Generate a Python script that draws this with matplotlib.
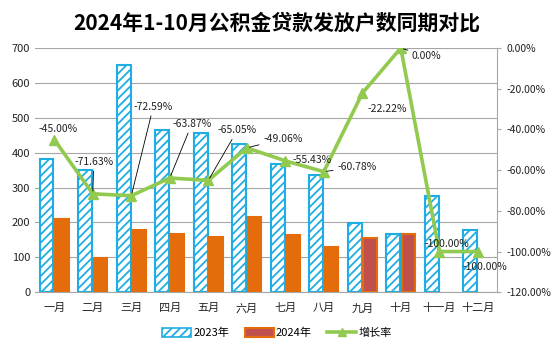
import matplotlib
matplotlib.use("Agg")
import matplotlib.pyplot as plt
import numpy as np
from matplotlib.patches import Patch
from matplotlib.lines import Line2D
from matplotlib.ticker import FuncFormatter

plt.rcParams['font.family'] = ['Noto Sans CJK SC', 'DejaVu Sans']
plt.rcParams['hatch.linewidth'] = 1.3

months   = ["一月", "二月", "三月", "四月", "五月", "六月",
            "七月", "八月", "九月", "十月", "十一月", "十二月"]
y2023    = [381, 350, 652, 466, 455, 426, 367, 335, 199, 166, 276, 178]
y2024    = [209, 99, 179, 168, 159, 217, 164, 131, 155, 166, np.nan, np.nan]
growth   = [-45.00, -71.63, -72.59, -63.87, -65.05, -49.06,
            -55.43, -60.78, -22.22, 0.00, -100.00, -100.00]
growth_labels = ["-45.00%", "-71.63%", "-72.59%", "-63.87%", "-65.05%", "-49.06%",
                 "-55.43%", "-60.78%", "-22.22%", "0.00%", "-100.00%", "-100.00%"]

# label offsets (pixels) and whether a leader line is drawn
label_offsets = [(4, 11), (1, 32), (22, 89), (22, 54), (29, 50), (36, 9),
                 (27, 1), (33, 5), (25, -16), (26, -8), (8, 8), (7, -15)]
leaders = [False, True, True, True, True, True,
           False, True, False, True, False, False]

blue = "#1FAEE3"
orange = "#E46C0A"
red = "#C0504D"
green = "#92C94F"
grey = "#A6A6A6"

fig = plt.figure(figsize=(5.54, 3.43), dpi=100)
ax = fig.add_axes([0.0632, 0.148, 0.834, 0.712])
x = np.arange(len(months))
w = 0.36

ax.bar(x - w / 2 - 0.02, y2023, w, facecolor="white", edgecolor=blue,
       hatch="////", linewidth=1.5, zorder=2)
cols24 = [orange] * 8 + [red] * 2 + [orange] * 2
ax.bar(x + w / 2 + 0.02, y2024, w, color=cols24, edgecolor=orange,
       linewidth=1.5, zorder=2)

ax.set_ylim(0, 700)
ax.set_yticks(range(0, 701, 100))
ax.set_xlim(-0.5, len(months) - 0.5)
ax.set_xticks(x)
ax.set_xticklabels(months, fontsize=8)
ax.grid(axis="y", color=grey, linewidth=0.8, zorder=0)
ax.set_axisbelow(True)
for s in ["top", "left", "right"]:
    ax.spines[s].set_visible(False)
ax.spines["bottom"].set_color(grey)
ax.tick_params(axis="both", length=0, labelsize=8, colors="#222222")
ax.tick_params(axis="x", pad=8)

ax2 = ax.twinx()
ax2.plot(x, growth, color=green, linewidth=2.6, marker="^", markersize=7,
         markerfacecolor=green, markeredgecolor=green, zorder=3)
ax2.set_ylim(-120, 0)
ax2.set_yticks(range(-120, 1, 20))
ax2.yaxis.set_major_formatter(FuncFormatter(lambda v, p: f"{v:.2f}%"))
for s in ["top", "left", "bottom"]:
    ax2.spines[s].set_visible(False)
ax2.spines["right"].set_color(grey)
ax2.tick_params(axis="y", length=3, color=grey, labelsize=7.5, labelcolor="#222222")

for i, (lab, off, ld) in enumerate(zip(growth_labels, label_offsets, leaders)):
    props = dict(arrowstyle="-", color="black", lw=0.6, shrinkA=1, shrinkB=2) if ld else None
    ax2.annotate(lab, xy=(x[i], growth[i]), xytext=off, textcoords="offset pixels",
                 ha="center", va="center", fontsize=7.5, color="#222222",
                 arrowprops=props, zorder=4)

fig.suptitle("2024年1-10月公积金贷款发放户数同期对比", fontsize=15,
             fontweight="bold", y=0.965)

handles = [Patch(facecolor="white", edgecolor=blue, hatch="////", linewidth=1.2),
           Patch(facecolor=red, edgecolor=orange, linewidth=1.5),
           Line2D([0], [0], color=green, linewidth=2.6, marker="^", markersize=6)]
fig.legend(handles, ["2023年", "2024年", "增长率"], loc="lower center",
           bbox_to_anchor=(0.5, -0.015), ncol=3, frameon=False, fontsize=8,
           handlelength=2.6, handleheight=0.8, columnspacing=1.4, handletextpad=0.2)

fig.savefig("out.png", dpi=100)
